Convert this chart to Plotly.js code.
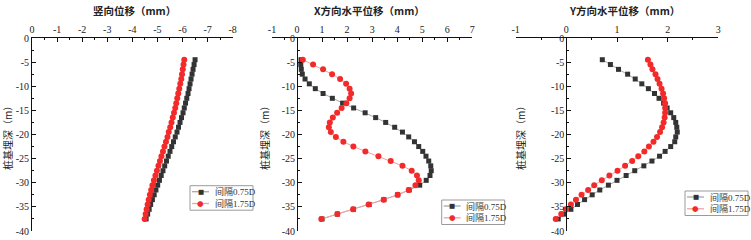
<!DOCTYPE html>
<html>
<head>
<meta charset="utf-8">
<script src="https://cdn.plot.ly/plotly-3.0.1.min.js"></script>
<style>html,body{margin:0;padding:0;background:#fff;}#chart{width:751px;height:240px;}</style>
</head>
<body>
<div id="chart"></div>
<script>
// ---- data ----
const depth = [-4.5,-5.5,-6.5,-7.5,-8.5,-9.5,-10.5,-11.5,-12.5,-13.5,-14.5,-15.5,-16.5,-17.5,-18.5,-19.5,-20.5,-21.5,-22.5,-23.5,-24.5,-25.5,-26.5,-27.5,-28.5,-29.5,-30.5,-31.5,-32.5,-33.5,-34.5,-35.5,-36.5,-37.5];

const seriesNames = ['间隔0.75D', '间隔1.75D'];

// 竖向位移 (mm)
const vert075 = [-6.50,-6.46,-6.42,-6.38,-6.34,-6.30,-6.26,-6.22,-6.17,-6.12,-6.07,-6.02,-5.96,-5.90,-5.84,-5.78,-5.71,-5.64,-5.57,-5.50,-5.43,-5.36,-5.29,-5.22,-5.15,-5.08,-5.01,-4.94,-4.87,-4.80,-4.73,-4.67,-4.61,-4.55];
const vert175 = [-6.07,-6.04,-6.01,-5.98,-5.95,-5.91,-5.87,-5.83,-5.79,-5.75,-5.71,-5.66,-5.61,-5.56,-5.51,-5.45,-5.40,-5.34,-5.28,-5.22,-5.16,-5.10,-5.04,-4.98,-4.92,-4.86,-4.80,-4.75,-4.70,-4.65,-4.61,-4.57,-4.53,-4.49];

// X方向水平位移 (mm)
const dx075 = [0.16,0.15,0.17,0.21,0.32,0.49,0.73,1.04,1.41,1.82,2.26,2.72,3.14,3.54,3.90,4.21,4.46,4.69,4.86,5.02,5.15,5.26,5.34,5.36,5.31,5.16,4.90,4.48,4.02,3.47,2.88,2.25,1.61,1.00];
const dx175 = [0.23,0.64,1.04,1.40,1.72,1.96,2.10,2.16,2.10,1.97,1.78,1.60,1.43,1.31,1.27,1.35,1.55,1.85,2.25,2.73,3.25,3.74,4.21,4.58,4.79,4.86,4.73,4.46,4.02,3.46,2.86,2.24,1.61,0.97];

// Y方向水平位移 (mm)
const dy075 = [0.71,0.87,1.03,1.21,1.36,1.49,1.62,1.74,1.83,1.92,1.99,2.06,2.12,2.16,2.18,2.19,2.16,2.14,2.06,1.95,1.84,1.69,1.53,1.35,1.18,1.00,0.83,0.66,0.51,0.36,0.22,0.09,-0.04,-0.16];
const dy175 = [1.61,1.66,1.70,1.76,1.80,1.84,1.88,1.91,1.93,1.95,1.95,1.95,1.94,1.92,1.89,1.85,1.79,1.72,1.63,1.54,1.42,1.30,1.16,1.01,0.85,0.70,0.55,0.43,0.30,0.19,0.09,-0.01,-0.10,-0.21];

// tick labels
const xTicks1 = [0,-1,-2,-3,-4,-5,-6,-7,-8];
const xTicks2 = [-1,0,1,2,3,4,5,6,7];
const xTicks3 = [-1,0,1,2,3];
const yTicks = [0,-5,-10,-15,-20,-25,-30,-35,-40];
const toLabel = v => String(v);  // hyphen-minus, as in the reference

const titles = ['竖向位移（mm）', 'X方向水平位移（mm）', 'Y方向水平位移（mm）'];
const yTitle = '桩基埋深（m）';

// ---- layout helpers ----
const W = 751, H = 240;
const px = v => v / W;
const py = v => 1 - v / H;
const dom1 = [px(32), px(232.7)];
const dom2 = [px(272), px(472.3)];
const dom3 = [px(515.7), px(718.3)];
const ydom = [py(231), py(38)];
const range1 = [0, -8], range2 = [-1, 7], range3 = [-1, 3];
const zeroPos = (dom, r) => dom[0] + (0 - r[0]) / (r[1] - r[0]) * (dom[1] - dom[0]);

const tickFont = {family: 'Liberation Serif, Noto Sans CJK SC', size: 10, color: '#222'};
const black = '#333333', red = '#f22a2a';
const blackLine = '#a8a8a8', redLine = '#f6a0a0';

function xa(dom, r, ticks, anchor) {
  return {domain: dom, range: r, side: 'top', anchor: anchor, showline: true, linecolor: '#111', linewidth: 1,
    ticks: 'inside', ticklen: 4, tickcolor: '#111', tickmode: 'array', tickvals: ticks, ticktext: ticks.map(toLabel),
    minor: {ticks: 'inside', ticklen: 2, dtick: 0.5, tick0: 0, tickcolor: '#111', showgrid: false},
    showgrid: false, zeroline: false, tickfont: tickFont, fixedrange: true};
}
function ya(anchorX, pos) {
  const a = {domain: ydom, range: [-40, 0], showline: true, linecolor: '#111', linewidth: 1,
    ticks: 'inside', ticklen: 4, tickcolor: '#111', tickmode: 'array', tickvals: yTicks, ticktext: yTicks.map(toLabel),
    minor: {ticks: 'inside', ticklen: 2, dtick: 2.5, tick0: 0, tickcolor: '#111', showgrid: false},
    showgrid: false, zeroline: false, tickfont: tickFont, fixedrange: true};
  if (pos === undefined) { a.anchor = anchorX; } else { a.anchor = 'free'; a.position = pos; }
  return a;
}

const markRed = {symbol: 'circle', size: 6, color: red};
const markBlack = {symbol: 'square', size: 5, color: black};

function mk(x, name, isRed, xax, yax) {
  return {x: x, y: depth, name: name, type: 'scatter', mode: 'lines+markers', xaxis: xax, yaxis: yax, showlegend: false,
    line: {color: isRed ? redLine : blackLine, width: 1},
    marker: isRed ? markRed : markBlack, cliponaxis: false};
}

const data = [
  mk(vert075, seriesNames[0], false, 'x', 'y'),
  mk(vert175, seriesNames[1], true, 'x', 'y'),
  mk(dx075, seriesNames[0], false, 'x2', 'y2'),
  mk(dx175, seriesNames[1], true, 'x2', 'y2'),
  mk(dy075, seriesNames[0], false, 'x3', 'y3'),
  mk(dy175, seriesNames[1], true, 'x3', 'y3')
];

// ---- compact boxed legends (drawn as layout decorations, pixel positions) ----
const legFont = {family: 'Liberation Serif, Noto Sans CJK SC', size: 9, color: '#333'};
const shapes = [], annotations = [];
function legendBox(L, T) {
  shapes.push({type: 'rect', xref: 'paper', yref: 'paper', x0: px(L), x1: px(L + 63), y0: py(T + 24.5), y1: py(T),
    line: {color: '#9a9a9a', width: 1}, fillcolor: '#fff', layer: 'above'});
  const rows = [[T + 6, blackLine, '■', black, 6.5, seriesNames[0]], [T + 17.8, redLine, '●', red, 7.5, seriesNames[1]]];
  rows.forEach(r => {
    shapes.push({type: 'line', xref: 'paper', yref: 'paper', x0: px(L + 2), x1: px(L + 19), y0: py(r[0]), y1: py(r[0]),
      line: {color: r[1], width: 1.3}, layer: 'above'});
    annotations.push({text: r[2], x: px(L + 10.5), y: py(r[0]), xref: 'paper', yref: 'paper', showarrow: false,
      xanchor: 'center', yanchor: 'middle', font: {family: 'DejaVu Sans', size: r[4], color: r[3]}});
    annotations.push({text: r[5], x: px(L + 22.5), y: py(r[0]), xref: 'paper', yref: 'paper', showarrow: false,
      xanchor: 'left', yanchor: 'middle', font: legFont});
  });
}
legendBox(190, 185.7);
legendBox(441.7, 200);
legendBox(685, 191);

const titleFont = {family: 'Noto Sans CJK SC', size: 10.5, color: '#222', weight: 'bold'};
const annFont = {family: 'Noto Sans CJK SC', size: 10, color: '#222'};
[[titles[0], 134], [titles[1], 369], [titles[2], 624]].forEach(t => annotations.push(
  {text: t[0], x: px(t[1]), y: py(11), xref: 'paper', yref: 'paper', showarrow: false, xanchor: 'center', yanchor: 'middle', font: titleFont}));
[7, 264, 520].forEach(xp => annotations.push(
  {text: yTitle, x: px(xp), y: py(136), xref: 'paper', yref: 'paper', showarrow: false, textangle: -90, xanchor: 'center', yanchor: 'middle', font: annFont}));

const layout = {
  width: W, height: H, margin: {l: 0, r: 0, t: 0, b: 0}, paper_bgcolor: '#fff', plot_bgcolor: 'rgba(0,0,0,0)',
  showlegend: false,
  xaxis: xa(dom1, range1, xTicks1, 'y'),
  yaxis: ya('x'),
  xaxis2: xa(dom2, range2, xTicks2, 'y2'),
  yaxis2: ya('x2', zeroPos(dom2, range2)),
  xaxis3: xa(dom3, range3, xTicks3, 'y3'),
  yaxis3: ya('x3', zeroPos(dom3, range3)),
  shapes: shapes,
  annotations: annotations
};

Plotly.newPlot('chart', data, layout, {displayModeBar: false, staticPlot: true});
</script>
</body>
</html>
